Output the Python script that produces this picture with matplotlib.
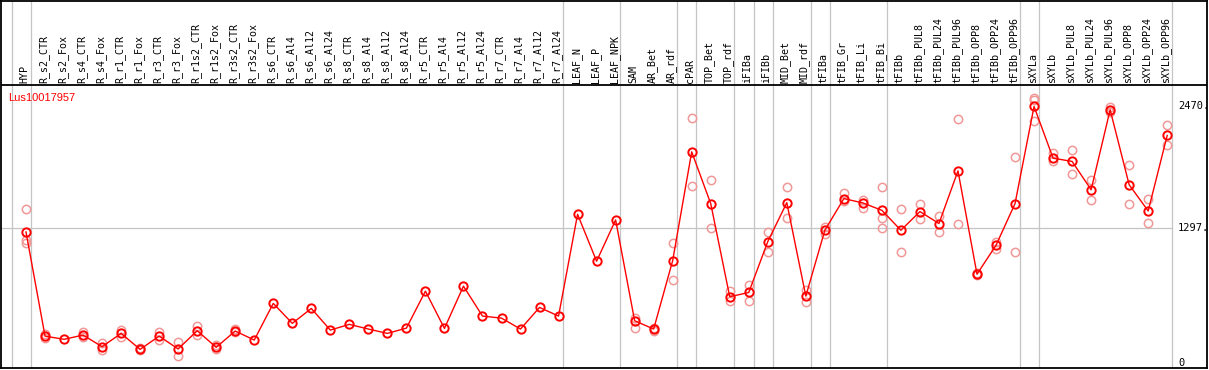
import matplotlib
matplotlib.use('Agg')
import matplotlib.pyplot as plt

# Muestras (columnas del gráfico)
etiquetas = ['HYP',
             'R_s2_CTR', 'R_s2_Fox', 'R_s4_CTR', 'R_s4_Fox', 'R_r1_CTR', 'R_r1_Fox',
             'R_r3_CTR', 'R_r3_Fox', 'R_r1s2_CTR', 'R_r1s2_Fox', 'R_r3s2_CTR', 'R_r3s2_Fox',
             'R_s6_CTR', 'R_s6_Al4', 'R_s6_Al12', 'R_s6_Al24',
             'R_s8_CTR', 'R_s8_Al4', 'R_s8_Al12', 'R_s8_Al24',
             'R_r5_CTR', 'R_r5_Al4', 'R_r5_Al12', 'R_r5_Al24',
             'R_r7_CTR', 'R_r7_Al4', 'R_r7_Al12', 'R_r7_Al24',
             'LEAF_N', 'LEAF_P', 'LEAF_NPK', 'SAM', 'AR_Bet', 'AR_rdf', 'cPAR',
             'TOP_Bet', 'TOP_rdf', 'iFIBa', 'iFIBb', 'MID_Bet', 'MID_rdf',
             'tFIBa', 'tFIB_Gr', 'tFIB_Li', 'tFIB_Bi', 'tFIBb',
             'tFIBb_PUL8', 'tFIBb_PUL24', 'tFIBb_PUL96', 'tFIBb_OPP8', 'tFIBb_OPP24', 'tFIBb_OPP96',
             'sXYLa', 'sXYLb',
             'sXYLb_PUL8', 'sXYLb_PUL24', 'sXYLb_PUL96', 'sXYLb_OPP8', 'sXYLb_OPP24', 'sXYLb_OPP96']

# Valor medio de expresión por muestra
medias = [1262, 259, 228, 269, 157, 285, 131, 259, 135, 311, 151, 308, 221, 574, 382,
          525, 317, 372, 327, 285, 336, 692, 333, 740, 452, 432, 327, 535, 452, 1432, 980,
          1378, 407, 327, 986, 2033, 1535, 638, 679, 1169, 1544, 644, 1278, 1583, 1541,
          1470, 1278, 1458, 1343, 1850, 855, 1134, 1535, 2470, 1972, 1941, 1668, 2438,
          1716, 1464, 2191]

# Réplicas por muestra (vacío = sin réplicas visibles)
replicas = [[1480, 1182, 1153],
            [279, 240], [], [295, 250], [195, 125], [317, 253], [140, 125],
            [295, 221], [199, 70], [356, 269], [173, 135], [330, 300], [],
            [], [], [], [], [], [], [], [], [], [], [], [], [], [], [], [],
            [], [], [], [436, 339], [307, 339], [1160, 804], [2361, 1704],
            [1765, 1304], [692, 599], [750, 599], [1265, 1070], [1698, 1396], [702, 583],
            [1313, 1240], [1634, 1557], [1567, 1493], [1698, 1396, 1304], [1486, 1064],
            [1535, 1390], [1413, 1262], [2351, 1343], [870, 845], [1166, 1093], [1980, 1064],
            [2553, 2534, 2328], [2020, 1941],
            [2053, 1822], [1759, 1573], [2465, 2415], [1903, 1535], [1583, 1352], [2287, 2095]]

# Separadores de grupo (después de estas columnas)
separadores = [-1, 0, 28, 31, 34, 35, 37, 38, 39, 41, 42, 45, 52, 53, 60]

gen = 'Lus10017957'
vmax = 2470
vmid = 1297

fuente = 'DejaVu Sans Mono'

fig = plt.figure(figsize=(12.09, 3.70), dpi=100)
ax = fig.add_axes([1 / 1209, 2 / 370, 1206 / 1209, 367 / 370])

x = list(range(len(etiquetas)))
px_val = 9.615  # valor por pixel
y_header = 278 * px_val
ax.set_xlim((1 - 26) / 19.02, (1207 - 26) / 19.02)
ax.set_ylim(-5 * px_val, 362.5 * px_val)

# líneas grises verticales
for s in separadores:
    ax.axvline(s + 0.25, color='#c4c4c4', lw=0.9, zorder=1)
# línea horizontal en el valor medio
ax.plot([ax.get_xlim()[0], 60.25], [vmid, vmid], color='#c4c4c4', lw=0.9, zorder=1)
# línea de cabecera
ax.axhline(y_header, color='black', lw=1.3, zorder=3)

# réplicas
for i, reps in enumerate(replicas):
    if reps:
        ax.plot([i] * len(reps), reps, 'o', ms=6, mfc='none', mec='#f09898', mew=1.1,
                zorder=2, clip_on=False)

# medias
ax.plot(x, medias, '-', color='red', lw=1.0, zorder=4)
ax.plot(x, medias, 'o', ms=6, mfc='none', mec='red', mew=1.4, zorder=5)

# etiquetas de columna
for i, lab in enumerate(etiquetas):
    ax.text(i - 0.08, y_header + 2.5 * px_val, lab, rotation=90, ha='center', va='bottom',
            fontsize=7.2, family=fuente, color='black')

# etiquetas del eje derecho
for v, t in [(vmax, '2470.'), (vmid, '1297.'), (0, '0')]:
    ax.text((1178 - 26) / 19.02, v, t, ha='left', va='center', fontsize=7.5,
            family=fuente, color='black')

ax.text((8 - 26) / 19.02, y_header - 13 * px_val, gen, ha='left', va='center',
        fontsize=8, family='Liberation Sans', color='red')

ax.set_xticks([])
ax.set_yticks([])
for sp in ax.spines.values():
    sp.set_linewidth(1.3)
    sp.set_color('black')

fig.savefig('out.png', dpi=100)
